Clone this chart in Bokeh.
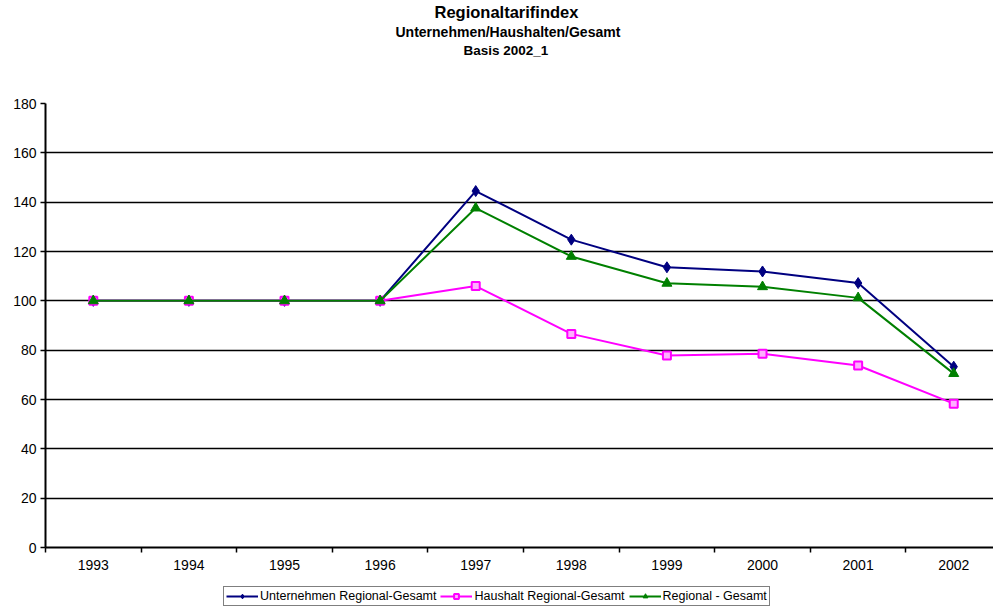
from bokeh.plotting import figure
from bokeh.layouts import column
from bokeh.models import Range1d, FixedTicker, Legend, LegendItem, Title
from bokeh.embed import file_html
from bokeh.resources import INLINE

years = ["1993", "1994", "1995", "1996", "1997", "1998", "1999", "2000", "2001", "2002"]
unternehmen = [100, 100, 100, 100, 144.5, 124.8, 113.6, 111.9, 107.2, 73.3]
haushalt = [100, 100, 100, 100, 106.0, 86.6, 77.8, 78.5, 73.8, 58.3]
gesamt = [100, 100, 100, 100, 137.6, 118.0, 107.1, 105.7, 101.2, 70.5]
y_ticks = [0, 20, 40, 60, 80, 100, 120, 140, 160, 180]
title_lines = ["Regionaltarifindex", "Unternehmen/Haushalten/Gesamt", "Basis 2002_1"]
series_names = ["Unternehmen Regional-Gesamt", "Haushalt Regional-Gesamt", "Regional - Gesamt"]

xs = list(range(len(years)))
FONT = "Liberation Sans"
COLORS = ["#000080", "#FF00FF", "#008000"]
SQUARE_FILL = "#FFB0FF"


def draw_series(fig):
    rs = []
    for vals, col, mk, sz in zip([unternehmen, haushalt, gesamt], COLORS,
                                 ["diamond", "square", "triangle"], [11, 8, 10]):
        ln = fig.line(xs, vals, line_color=col, line_width=2)
        if mk == "square":
            sc = fig.scatter(xs, vals, marker=mk, size=sz, fill_color=SQUARE_FILL,
                             line_color=col, line_width=2)
        else:
            sc = fig.scatter(xs, vals, marker=mk, size=sz, fill_color=col, line_color=col)
        rs.append([ln, sc])
    return rs


p = figure(width=993, height=580, output_backend="svg", toolbar_location=None,
           x_range=Range1d(-0.5, 9.416), y_range=Range1d(0, 180),
           min_border_left=45, min_border_right=0, min_border_top=103, min_border_bottom=33)
p.outline_line_color = None
p.background_fill_color = "white"
p.border_fill_color = "white"

# axes
p.xgrid.visible = False
p.ygrid.grid_line_color = "black"
p.ygrid.grid_line_width = 1.7
p.ygrid.ticker = FixedTicker(ticks=y_ticks)

p.yaxis.ticker = FixedTicker(ticks=y_ticks)
p.yaxis.axis_line_color = "black"
p.yaxis.axis_line_width = 2
p.yaxis.major_tick_in = 0
p.yaxis.major_tick_out = 5
p.yaxis.major_tick_line_width = 1.5
p.yaxis.minor_tick_line_color = None
p.yaxis.major_label_text_font = FONT
p.yaxis.major_label_text_font_size = "14px"
p.yaxis.major_label_text_color = "black"
p.yaxis.major_label_standoff = 4

p.xaxis.ticker = FixedTicker(ticks=xs, minor_ticks=[i - 0.5 for i in range(len(years) + 1)])
p.xaxis.major_label_overrides = {i: y for i, y in enumerate(years)}
p.xaxis.axis_line_color = "black"
p.xaxis.axis_line_width = 2
p.xaxis.major_tick_in = 0
p.xaxis.major_tick_out = 0
p.xaxis.minor_tick_in = 0
p.xaxis.minor_tick_out = 5
p.xaxis.minor_tick_line_color = "black"
p.xaxis.minor_tick_line_width = 1.5
p.xaxis.major_label_text_font = FONT
p.xaxis.major_label_text_font_size = "14px"
p.xaxis.major_label_text_color = "black"
p.xaxis.major_label_standoff = 7

draw_series(p)

# titles (first added sits closest to the frame)
spacer = Title(text=" ", text_font=FONT, text_font_size="2px")
try:
    spacer.standoff = 41
except Exception:
    pass
p.add_layout(spacer, "above")
title_sizes = ["16.5px", "14px", "13.5px"]
title_offsets = [389, 350, 418]
for t, fs, off in reversed(list(zip(title_lines, title_sizes, title_offsets))):
    ttl = Title(text=t, align="left", offset=off, text_font=FONT, text_font_size=fs,
                text_font_style="bold", text_color="black")
    try:
        ttl.standoff = 1
    except Exception:
        pass
    p.add_layout(ttl, "above")

# legend strip below the chart: same series, drawn into a y window that shows none of them
p2 = figure(width=993, height=30, output_backend="svg", toolbar_location=None,
            x_range=Range1d(-0.5, 9.416), y_range=Range1d(1000, 1001),
            x_axis_location=None, y_axis_location=None, min_border=0)
p2.outline_line_color = None
p2.xgrid.visible = False
p2.ygrid.visible = False
leg_rs = draw_series(p2)

legend = Legend(items=[LegendItem(label=n, renderers=r) for n, r in zip(series_names, leg_rs)],
                orientation="horizontal", location=(178, 4))
legend.border_line_color = "black"
legend.border_line_width = 1
legend.background_fill_color = "white"
legend.background_fill_alpha = 1
legend.padding = 2
legend.margin = 0
legend.spacing = 4
legend.label_standoff = 2
legend.glyph_width = 32
legend.glyph_height = 12
legend.label_height = 12
legend.label_text_font = FONT
legend.label_text_font_size = "12.5px"
legend.label_text_color = "black"
p2.add_layout(legend, "center")

open("out.html", "w").write(file_html(column(p, p2, spacing=0), INLINE))
